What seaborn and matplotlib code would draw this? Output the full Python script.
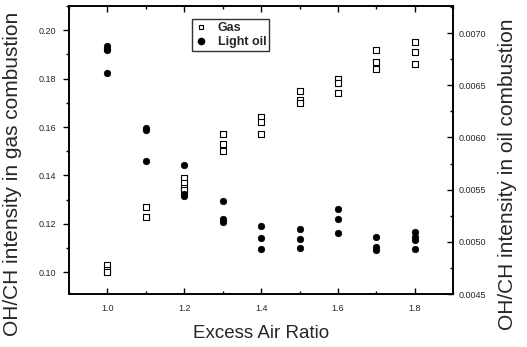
import matplotlib
matplotlib.use("Agg")
import matplotlib.pyplot as plt
import seaborn as sns
import pandas as pd
from matplotlib.ticker import MultipleLocator, FormatStrFormatter
from matplotlib.lines import Line2D

sns.set_style("ticks")
plt.rcParams['font.family'] = ['Liberation Sans', 'DejaVu Sans']

# Gas (left axis)
gas_x = [1.0, 1.0, 1.0, 1.1, 1.1, 1.2, 1.2, 1.2, 1.2,
         1.3, 1.3, 1.3, 1.4, 1.4, 1.4, 1.5, 1.5, 1.5,
         1.6, 1.6, 1.6, 1.7, 1.7, 1.7, 1.8, 1.8, 1.8]
gas_y = [0.103, 0.101, 0.100, 0.127, 0.123, 0.139, 0.137, 0.135, 0.134,
         0.157, 0.153, 0.150, 0.164, 0.162, 0.157, 0.175, 0.171, 0.170,
         0.180, 0.178, 0.174, 0.192, 0.187, 0.184, 0.195, 0.191, 0.186]

# Light oil (right axis)
oil_x = [1.0, 1.0, 1.0, 1.0, 1.1, 1.1, 1.1, 1.2, 1.2, 1.2,
         1.3, 1.3, 1.3, 1.4, 1.4, 1.4, 1.5, 1.5, 1.5,
         1.6, 1.6, 1.6, 1.7, 1.7, 1.7, 1.8, 1.8, 1.8, 1.8]
oil_y = [0.00688, 0.00685, 0.00684, 0.00662, 0.00609, 0.00607, 0.00577,
         0.00574, 0.00546, 0.00544,
         0.00539, 0.00522, 0.00519, 0.00515, 0.00504, 0.00493,
         0.00512, 0.00503, 0.00494, 0.00531, 0.00522, 0.00508,
         0.00505, 0.00495, 0.00492, 0.00509, 0.00505, 0.00502, 0.00493]

gas_df = pd.DataFrame({"x": gas_x, "y": gas_y})
oil_df = pd.DataFrame({"x": oil_x, "y": oil_y})

fig = plt.figure(figsize=(5.27, 3.47), dpi=100)
ax = fig.add_axes([0.131, 0.1527, 0.729, 0.830])
ax2 = ax.twinx()

sns.scatterplot(data=gas_df, x="x", y="y", ax=ax, marker="s", s=13,
                facecolor="white", edgecolor="black", linewidth=0.8, zorder=3)
sns.scatterplot(data=oil_df, x="x", y="y", ax=ax2, marker="o", s=22,
                color="black", edgecolor="black", linewidth=0.5, zorder=3)

ax.set_xlim(0.9, 1.9)
ax.set_ylim(0.091, 0.21)
ax2.set_ylim(0.0045, 0.00726)

ax.xaxis.set_major_locator(MultipleLocator(0.2))
ax.xaxis.set_minor_locator(MultipleLocator(0.1))
ax.xaxis.set_major_formatter(FormatStrFormatter('%.1f'))
ax.yaxis.set_major_locator(MultipleLocator(0.02))
ax.yaxis.set_minor_locator(MultipleLocator(0.01))
ax.yaxis.set_major_formatter(FormatStrFormatter('%.2f'))
ax2.yaxis.set_major_locator(MultipleLocator(0.0005))
ax2.yaxis.set_minor_locator(MultipleLocator(0.00025))
ax2.yaxis.set_major_formatter(FormatStrFormatter('%.4f'))

for a in (ax, ax2):
    a.tick_params(which='both', labelsize=6.5, width=1, color='black')
    for sp in a.spines.values():
        sp.set_linewidth(1.2)
        sp.set_color('black')
        sp.set_visible(True)

ax.tick_params(axis='x', which='both', direction='in', top=True, pad=7)
ax.tick_params(axis='x', which='major', length=4)
ax.tick_params(axis='x', which='minor', length=2)
ax.tick_params(axis='y', which='both', direction='out', pad=5)
ax.tick_params(axis='y', which='major', length=4)
ax.tick_params(axis='y', which='minor', length=2)
ax2.tick_params(axis='y', which='both', direction='in', pad=4)
ax2.tick_params(axis='y', which='major', length=4)
ax2.tick_params(axis='y', which='minor', length=2)

ax.set_xlabel("Excess Air Ratio", fontsize=13.5, labelpad=9)
ax.set_ylabel("OH/CH intensity in gas combustion", fontsize=15)
ax2.set_ylabel("OH/CH intensity in oil combustion", fontsize=15)
ax.yaxis.set_label_coords(-0.122, 0.417)
ax2.yaxis.set_label_coords(1.117, 0.417)

handles = [
    Line2D([], [], marker='s', linestyle='none', markersize=3,
           markerfacecolor='white', markeredgecolor='black', markeredgewidth=0.8),
    Line2D([], [], marker='o', linestyle='none', markersize=4.5,
           markerfacecolor='black', markeredgecolor='black'),
]
leg = ax2.legend(handles, ["Gas", "Light oil"], loc='upper left',
                 bbox_to_anchor=(0.32, 0.955), prop={'size': 9, 'weight': 'bold'},
                 frameon=True, fancybox=False, edgecolor='black',
                 handletextpad=0.8, borderpad=0.25, labelspacing=0.15,
                 handlelength=1.0, borderaxespad=0)
leg.get_frame().set_linewidth(1.0)

fig.savefig("out.png", dpi=100)
